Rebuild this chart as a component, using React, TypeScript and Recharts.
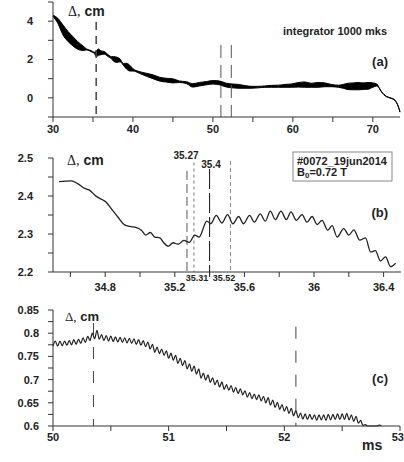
import { ComposedChart, LineChart, Line, Area, XAxis, YAxis, ReferenceLine } from 'recharts';

// panel (a): envelope of the integrator signal, cm
const aTime = [30.0, 30.6, 31.25, 31.9, 32.5, 33.1, 33.75, 34.2, 34.8, 35.2, 35.4, 35.7, 36.0, 36.4, 36.9, 37.3, 37.6, 38.0, 38.4, 38.8, 39.2, 39.6, 40.0, 40.8, 41.7, 42.5, 43.3, 44.2, 45.0, 45.8, 46.7, 47.5, 48.3, 49.2, 50.0, 50.8, 51.7, 52.5, 53.2, 54.0, 54.8, 55.6, 56.5, 57.3, 58.2, 59.0, 59.8, 60.7, 61.5, 62.3, 63.2, 64.0, 64.8, 65.7, 66.3, 66.9, 67.6, 68.2, 68.8, 69.4, 70.0, 70.5, 70.8, 71.1, 71.7, 72.3, 72.75, 73.2, 73.4];
const aLow = [4.25, 3.89, 3.28, 2.93, 2.71, 2.53, 2.47, 2.5, 2.4, 2.3, 2.15, 2.22, 2.25, 2.28, 2.15, 2.05, 1.9, 1.85, 1.88, 1.7, 1.5, 1.4, 1.4, 1.28, 1.12, 1.0, 0.88, 0.82, 0.78, 0.8, 0.74, 0.56, 0.62, 0.68, 0.72, 0.68, 0.56, 0.52, 0.5, 0.5, 0.5, 0.52, 0.55, 0.55, 0.55, 0.55, 0.55, 0.56, 0.55, 0.55, 0.55, 0.58, 0.58, 0.55, 0.5, 0.43, 0.42, 0.42, 0.44, 0.45, 0.55, 0.62, 0.5, 0.3, 0.06, -0.03, -0.13, -0.48, -0.75];
const aHigh = [4.32, 4.15, 3.8, 3.45, 3.19, 2.93, 2.71, 2.55, 2.46, 2.38, 2.45, 2.55, 2.45, 2.42, 2.25, 2.15, 2.15, 2.12, 2.02, 1.78, 1.8, 1.7, 1.52, 1.37, 1.28, 1.2, 1.08, 1.02, 0.99, 0.88, 0.84, 0.74, 0.8, 0.85, 0.9, 0.88, 0.76, 0.72, 0.7, 0.64, 0.6, 0.6, 0.62, 0.65, 0.66, 0.7, 0.72, 0.8, 0.83, 0.76, 0.8, 0.78, 0.7, 0.66, 0.7, 0.76, 0.78, 0.8, 0.78, 0.8, 0.78, 0.72, 0.52, 0.32, 0.08, -0.01, -0.11, -0.46, -0.73];
const aXTicks = [30, 35, 40, 45, 50, 55, 60, 65, 70];
const aXLabels = [30, 40, 50, 60, 70];
const aYTicks = [-1, 0, 1, 2, 3, 4, 5];
const aYLabels = [0, 2, 4];
const aMarks = [35.4, 51.0, 52.3];

// panel (b)
const bTime = [34.535, 34.605, 34.644, 34.682, 34.707, 34.749, 34.784, 34.803, 34.836, 34.874, 34.912, 34.941, 34.98, 35.008, 35.033, 35.06, 35.085, 35.114, 35.133, 35.162, 35.19, 35.219, 35.252, 35.283, 35.315, 35.34, 35.384, 35.407, 35.438, 35.471, 35.503, 35.534, 35.567, 35.595, 35.63, 35.657, 35.691, 35.72, 35.749, 35.778, 35.81, 35.841, 35.868, 35.899, 35.931, 35.96, 35.989, 36.018, 36.046, 36.079, 36.104, 36.133, 36.171, 36.2, 36.229, 36.263, 36.296, 36.325, 36.353, 36.382, 36.411, 36.44, 36.469];
const bDelta = [2.438, 2.44, 2.432, 2.42, 2.416, 2.399, 2.39, 2.385, 2.366, 2.344, 2.324, 2.32, 2.317, 2.31, 2.297, 2.304, 2.292, 2.29, 2.279, 2.268, 2.277, 2.273, 2.283, 2.278, 2.297, 2.292, 2.334, 2.327, 2.349, 2.329, 2.351, 2.327, 2.346, 2.327, 2.349, 2.331, 2.353, 2.334, 2.36, 2.338, 2.36, 2.338, 2.358, 2.336, 2.351, 2.331, 2.346, 2.325, 2.336, 2.31, 2.322, 2.292, 2.314, 2.297, 2.311, 2.284, 2.29, 2.253, 2.256, 2.229, 2.24, 2.214, 2.223];
const bXTicks = [34.6, 34.8, 35.0, 35.2, 35.4, 35.6, 35.8, 36.0, 36.2, 36.4];
const bXLabels = [34.8, 35.2, 35.6, 36.0, 36.4];
const bYTicks = [2.2, 2.25, 2.3, 2.35, 2.4, 2.45, 2.5];
const bYLabels = [2.2, 2.3, 2.4, 2.5];

// panel (c)
const cTime = [
  50.0, 50.02, 50.04, 50.06, 50.08, 50.1, 50.12, 50.14, 50.16, 50.18,
  50.2, 50.22, 50.24, 50.26, 50.28, 50.3, 50.32, 50.34, 50.36, 50.38,
  50.4, 50.42, 50.44, 50.46, 50.48, 50.5, 50.52, 50.54, 50.56, 50.58,
  50.6, 50.62, 50.64, 50.66, 50.68, 50.7, 50.72, 50.74, 50.76, 50.78,
  50.8, 50.82, 50.84, 50.86, 50.88, 50.9, 50.92, 50.94, 50.96, 50.98,
  51.0, 51.02, 51.04, 51.06, 51.08, 51.1, 51.12, 51.14, 51.16, 51.18,
  51.2, 51.22, 51.24, 51.26, 51.28, 51.3, 51.32, 51.34, 51.36, 51.38,
  51.4, 51.42, 51.44, 51.46, 51.48, 51.5, 51.52, 51.54, 51.56, 51.58,
  51.6, 51.62, 51.64, 51.66, 51.68, 51.7, 51.72, 51.74, 51.76, 51.78,
  51.8, 51.82, 51.84, 51.86, 51.88, 51.9, 51.92, 51.94, 51.96, 51.98,
  52.0, 52.02, 52.04, 52.06, 52.08, 52.1, 52.12, 52.14, 52.16, 52.18,
  52.2, 52.22, 52.24, 52.26, 52.28, 52.3, 52.32, 52.34, 52.36, 52.38,
  52.4, 52.42, 52.44, 52.46, 52.48, 52.5, 52.52, 52.54, 52.56, 52.58,
  52.6, 52.62, 52.64, 52.66, 52.68, 52.7, 52.72, 52.76, 52.8, 52.82, 52.84,
];
const cDelta = [
  0.772, 0.783, 0.772, 0.783, 0.773, 0.783, 0.774, 0.784, 0.775, 0.786,
  0.776, 0.787, 0.778, 0.79, 0.78, 0.793, 0.784, 0.8, 0.788, 0.806,
  0.787, 0.797, 0.784, 0.795, 0.783, 0.794, 0.782, 0.792, 0.781, 0.791,
  0.78, 0.79, 0.779, 0.789, 0.778, 0.788, 0.776, 0.786, 0.774, 0.784,
  0.771, 0.781, 0.766, 0.776, 0.759, 0.77, 0.756, 0.766, 0.752, 0.762,
  0.746, 0.757, 0.742, 0.752, 0.735, 0.746, 0.73, 0.741, 0.723, 0.734,
  0.718, 0.729, 0.712, 0.723, 0.703, 0.714, 0.699, 0.71, 0.694, 0.704,
  0.689, 0.699, 0.684, 0.695, 0.679, 0.689, 0.677, 0.687, 0.673, 0.683,
  0.67, 0.68, 0.667, 0.676, 0.662, 0.672, 0.659, 0.669, 0.657, 0.667,
  0.654, 0.664, 0.65, 0.661, 0.645, 0.656, 0.64, 0.651, 0.636, 0.646,
  0.632, 0.642, 0.627, 0.638, 0.622, 0.633, 0.618, 0.628, 0.615, 0.626,
  0.614, 0.625, 0.614, 0.624, 0.612, 0.624, 0.613, 0.624, 0.612, 0.625,
  0.613, 0.625, 0.614, 0.626, 0.614, 0.626, 0.614, 0.627, 0.613, 0.624,
  0.61, 0.621, 0.606, 0.612, 0.601, 0.603, 0.6, 0.6, 0.6, 0.602, 0.601,
];
const cXTicks = [50, 50.5, 51, 51.5, 52, 52.5, 53];
const cXLabels = [50, 51, 52, 53];
const cYTicks = [0.6, 0.625, 0.65, 0.675, 0.7, 0.725, 0.75, 0.775, 0.8, 0.825, 0.85];
const cYLabels = [0.6, 0.65, 0.7, 0.75, 0.8, 0.85];
const cMarks = [50.35, 52.1];

const aData = aTime.map((t, i) => ({ t, band: [aLow[i], aHigh[i]] }));
const bData = bTime.map((t, i) => ({ t, d: bDelta[i] }));
const cData = cTime.map((t, i) => ({ t, d: cDelta[i] }));

const SANS = '"Liberation Sans", Arial, sans-serif';
const SERIF = '"Liberation Serif", "Times New Roman", serif';
const AXIS = '#333';
const tickStyle = { fontSize: 11, fontWeight: 700, fill: '#222', fontFamily: SANS };

const only = (labels: number[]) => (v: number) => (labels.includes(v) ? String(v) : '');

// bottom tick label for (c); the last one is nudged so it stays on the page
const CTick = ({ x, y, payload }: any) => {
  const v = payload.value;
  if (!cXLabels.includes(v)) return null;
  return (
    <text x={x} y={y} dy="0.71em" textAnchor={v === 53 ? 'end' : 'middle'} dx={v === 53 ? 4 : 0}
      fontSize={11} fontWeight={700} fill="#222" fontFamily={SANS}>
      {v}
    </text>
  );
};

const box = (top: number, height: number): React.CSSProperties => ({
  position: 'absolute',
  left: 0,
  top,
  width: 404,
  height,
});

export default function App() {
  return (
    <div style={{ position: 'absolute', left: 0, top: 0, width: 404, height: 462, background: '#fff' }}>
      {/* (a) */}
      <div style={box(0, 140)}>
        <ComposedChart width={404} height={140} data={aData} margin={{ top: 2, right: 4, bottom: 0, left: 0 }}>
          <XAxis type="number" dataKey="t" domain={[30, 73.4]} ticks={aXTicks} interval={0}
            tickFormatter={only(aXLabels)} height={23} tickSize={5} tickMargin={3} stroke={AXIS} tick={tickStyle} />
          <YAxis type="number" domain={[-1, 5]} ticks={aYTicks} interval={0} tickFormatter={only(aYLabels)}
            width={53} tickSize={5} tickMargin={15} stroke={AXIS} tick={tickStyle} />
          <Area dataKey="band" type="monotone" stroke="#000" strokeWidth={1} fill="#000" fillOpacity={1}
            isAnimationActive={false} dot={false} activeDot={false} />
          <ReferenceLine segment={[{ x: aMarks[0], y: 3.96 }, { x: aMarks[0], y: -1 }]} stroke="#444"
            strokeWidth={1.5} strokeDasharray="8 6" ifOverflow="visible" />
          {aMarks.slice(1).map((m) => (
            <ReferenceLine key={m} segment={[{ x: m, y: 2.76 }, { x: m, y: -1 }]} stroke="#555"
              strokeWidth={1} strokeDasharray="13 7" ifOverflow="visible" />
          ))}
        </ComposedChart>
      </div>

      {/* (b) */}
      <div style={box(140, 160)}>
        <LineChart width={404} height={160} data={bData} margin={{ top: 18, right: 3, bottom: 0, left: 0 }}>
          <XAxis type="number" dataKey="t" domain={[34.5, 36.5]} ticks={bXTicks} interval={0}
            tickFormatter={only(bXLabels)} height={28} tickSize={5} tickMargin={6} stroke={AXIS} tick={tickStyle} />
          <YAxis type="number" domain={[2.2, 2.5]} ticks={bYTicks} interval={0} tickFormatter={only(bYLabels)}
            width={53} tickSize={5} tickMargin={15} stroke={AXIS} tick={tickStyle} />
          <ReferenceLine segment={[{ x: 35.27, y: 2.466 }, { x: 35.27, y: 2.2 }]} stroke="#555"
            strokeDasharray="9 4" ifOverflow="visible" />
          <ReferenceLine segment={[{ x: 35.31, y: 2.488 }, { x: 35.31, y: 2.2 }]} stroke="#777"
            strokeDasharray="3 3" ifOverflow="visible" />
          <ReferenceLine segment={[{ x: 35.4, y: 2.471 }, { x: 35.4, y: 2.188 }]} stroke="#111"
            strokeDasharray="20 4" ifOverflow="visible" />
          <ReferenceLine segment={[{ x: 35.52, y: 2.492 }, { x: 35.52, y: 2.2 }]} stroke="#888"
            strokeDasharray="4 3" ifOverflow="visible" />
          <Line dataKey="d" type="monotone" stroke="#222" strokeWidth={1.3} dot={false} activeDot={false}
            isAnimationActive={false} />
        </LineChart>
      </div>

      {/* (c) */}
      <div style={box(295, 167)}>
        <LineChart width={404} height={167} data={cData} margin={{ top: 15, right: 4, bottom: 0, left: 0 }}>
          <XAxis type="number" dataKey="t" domain={[50, 53]} ticks={cXTicks} interval={0}
            height={36} tickSize={5} tickMargin={2} stroke={AXIS} tick={<CTick />} />
          <YAxis type="number" domain={[0.6, 0.85]} ticks={cYTicks} interval={0} tickFormatter={only(cYLabels)}
            width={53} tickSize={5} tickMargin={9} stroke={AXIS} tick={tickStyle} />
          {cMarks.map((m, i) => (
            <ReferenceLine key={m} segment={[{ x: m, y: i === 0 ? 0.822 : 0.814 }, { x: m, y: 0.6 }]}
              stroke="#444" strokeDasharray="12 12" ifOverflow="visible" />
          ))}
          <Line dataKey="d" type="monotone" stroke="#222" strokeWidth={1.2} dot={false} activeDot={false}
            isAnimationActive={false} />
        </LineChart>
      </div>

      {/* annotations */}
      <svg width={404} height={462} style={{ position: 'absolute', left: 0, top: 0, pointerEvents: 'none' }}>
        <g fontFamily={SANS} fontWeight={700} fill="#222">
          <text x={68} y={16} fontSize={14}>
            <tspan fontFamily={SERIF} fontWeight={400}>Δ,</tspan> cm
          </text>
          <text x={387} y={35} fontSize={11} textAnchor="end">integrator 1000 mks</text>
          <text x={388} y={66} fontSize={13} textAnchor="end">(a)</text>

          <text x={67} y={165} fontSize={14}>
            <tspan fontFamily={SERIF} fontWeight={400}>Δ,</tspan> cm
          </text>
          <text x={186} y={159} fontSize={10} textAnchor="middle">35.27</text>
          <text x={211} y={168} fontSize={10} textAnchor="middle">35.4</text>
          <text x={197} y={281} fontSize={9} textAnchor="middle">35.31</text>
          <text x={224} y={281} fontSize={9} textAnchor="middle">35.52</text>
          <rect x={293} y={152} width={99} height={29} fill="none" stroke="#888" strokeWidth={1} />
          <text x={297} y={165} fontSize={11}>#0072_19jun2014</text>
          <text x={297} y={176} fontSize={11}>
            B<tspan fontSize={8} dy={2}>0</tspan><tspan dy={-2}>=0.72 T</tspan>
          </text>
          <text x={388} y={217} fontSize={13} textAnchor="end">(b)</text>

          <text x={65} y={321} fontSize={13}>
            <tspan fontFamily={SERIF} fontWeight={400}>Δ,</tspan> cm
          </text>
          <text x={388} y={383} fontSize={13} textAnchor="end">(c)</text>
          <text x={362} y={450} fontSize={14}>ms</text>
        </g>
      </svg>
    </div>
  );
}
